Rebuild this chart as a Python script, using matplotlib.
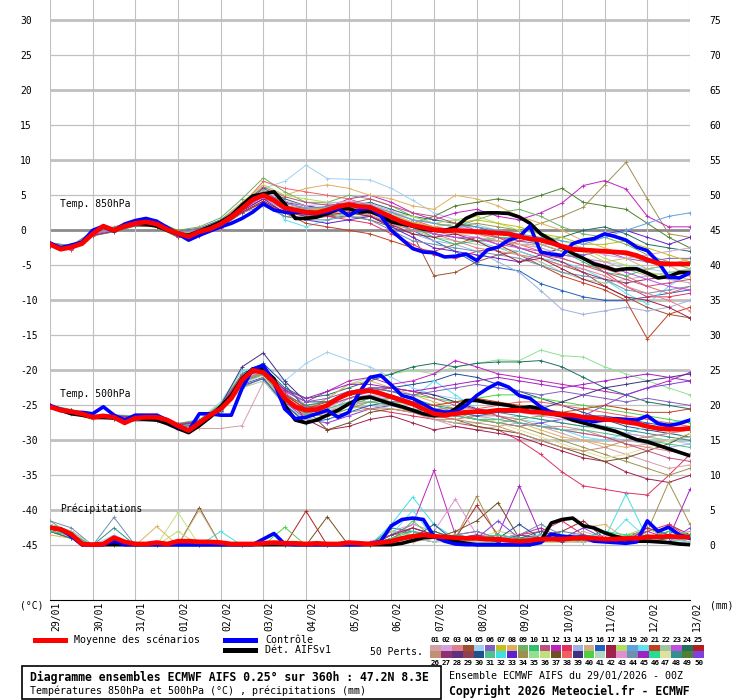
import matplotlib
matplotlib.use('Agg')
import matplotlib.pyplot as plt
import matplotlib.transforms as mtransforms
from matplotlib.patches import Rectangle
from matplotlib.lines import Line2D
import numpy as np

plt.rcParams['font.family'] = ['DejaVu Sans Mono']

W, H = 740, 700

# x axis: days since 29/01 00Z, main runs every 6h, members every 12h
day_labels = ['29/01', '30/01', '31/01', '01/02', '02/02', '03/02', '04/02', '05/02',
              '06/02', '07/02', '08/02', '09/02', '10/02', '11/02', '12/02', '13/02']
steps6 = np.arange(61) * 0.25
steps12 = np.arange(31) * 0.5

# ---- Temp 850hPa (°C), 6-hourly
t850_mean = [-2.0, -2.7, -2.4, -1.9, -0.5, 0.6, 0.0, 0.6, 1.0, 1.2, 0.9, 0.1, -0.4, -0.9, -0.2, 0.2,
             0.9, 1.9, 3.1, 4.4, 5.0, 4.3, 3.2, 2.9, 2.6, 2.5, 2.9, 3.4, 3.7, 3.4, 3.3, 2.6,
             1.9, 1.2, 0.7, 0.4, 0.1, -0.1, 0.0, -0.1, -0.2, -0.3, -0.4, -0.5, -0.9, -1.2, -1.4, -1.8,
             -2.3, -2.7, -2.8, -2.9, -3.0, -3.1, -3.2, -3.6, -4.2, -4.7, -4.8, -4.8, -4.8]
t850_ctrl = [-1.8, -2.5, -2.1, -1.7, 0.0, 0.6, 0.0, 0.9, 1.4, 1.7, 1.3, 0.4, -0.5, -1.4, -0.7, -0.1,
             0.5, 1.0, 1.7, 2.6, 3.8, 2.9, 2.6, 2.6, 2.5, 2.4, 2.6, 3.1, 2.1, 2.9, 3.2, 2.1,
             0.0, -1.3, -2.6, -3.1, -3.2, -3.8, -3.7, -3.4, -4.3, -2.8, -2.4, -1.4, -0.9, 0.6, -3.1, -3.4,
             -3.6, -1.9, -1.4, -1.2, -0.5, -0.9, -1.4, -2.4, -2.9, -4.5, -6.7, -6.8, -6.1]
t850_det = [-2.0, -2.7, -2.2, -1.8, -0.2, 0.5, -0.1, 0.7, 1.0, 0.9, 0.6, 0.0, -0.5, -0.7, -0.1, 0.5,
            1.2, 2.1, 3.6, 4.9, 5.2, 5.5, 3.8, 1.7, 1.7, 1.9, 2.4, 3.0, 3.1, 2.6, 2.7, 2.1,
            1.2, 0.9, 0.6, 0.2, 0.0, 0.0, 0.4, 1.7, 2.4, 2.5, 2.5, 2.4, 1.9, 1.0, -0.5, -1.4,
            -2.4, -3.3, -4.0, -4.8, -5.2, -5.7, -5.5, -5.5, -6.1, -6.8, -6.6, -6.0, -6.0]

# ---- Temp 500hPa (°C), 6-hourly
t500_mean = [-25.2, -25.7, -25.9, -26.2, -26.7, -26.5, -26.7, -27.5, -26.8, -26.7, -26.7, -27.1, -27.9, -28.6, -27.5, -26.4,
             -25.5, -24.0, -21.4, -20.0, -20.3, -21.7, -24.0, -25.2, -25.7, -25.6, -25.0, -24.0, -23.3, -23.0, -22.9, -23.3,
             -23.8, -24.3, -24.8, -25.5, -26.2, -26.4, -26.2, -26.0, -25.9, -25.9, -25.7, -25.7, -25.7, -25.9, -26.0, -26.2,
             -26.3, -26.4, -26.7, -26.8, -27.0, -27.1, -27.4, -27.6, -28.0, -28.3, -28.4, -28.4, -28.3]
t500_ctrl = [-25.0, -25.6, -26.0, -26.0, -26.2, -25.2, -26.4, -27.1, -26.4, -26.4, -26.4, -27.1, -28.1, -28.6, -26.2, -26.2,
             -26.4, -26.4, -22.6, -19.8, -19.3, -21.7, -25.5, -26.9, -26.7, -26.2, -25.7, -26.7, -26.0, -23.1, -21.0, -20.7,
             -22.1, -23.6, -24.0, -24.8, -25.7, -26.0, -25.9, -25.0, -23.6, -22.6, -21.8, -22.4, -23.6, -24.0, -25.2, -26.0,
             -26.4, -26.7, -27.1, -27.3, -27.1, -26.9, -27.0, -27.1, -26.5, -27.6, -27.9, -27.6, -27.1]
t500_det = [-25.2, -25.7, -26.2, -26.4, -26.7, -26.7, -26.8, -27.4, -26.9, -27.0, -27.1, -27.6, -28.3, -28.9, -27.9, -26.7,
            -25.2, -23.6, -21.2, -19.8, -19.8, -21.2, -25.0, -27.1, -27.5, -27.1, -26.4, -25.7, -24.8, -24.0, -23.8, -24.3,
            -24.8, -25.2, -25.7, -26.2, -26.5, -26.4, -25.5, -24.3, -24.3, -24.6, -24.8, -25.0, -25.4, -25.2, -25.5, -26.2,
            -26.5, -27.1, -27.5, -27.9, -28.3, -28.7, -29.3, -29.9, -30.2, -30.7, -31.2, -31.7, -32.2]

# ---- Precipitation (mm), 6-hourly
pr_mean = [2.5, 2.3, 1.6, 0.2, 0.1, 0.2, 1.1, 0.5, 0.2, 0.2, 0.4, 0.2, 0.6, 0.6, 0.5, 0.5,
           0.4, 0.2, 0.2, 0.2, 0.3, 0.4, 0.3, 0.3, 0.2, 0.3, 0.2, 0.2, 0.4, 0.3, 0.2, 0.4,
           0.6, 1.0, 1.3, 1.5, 1.3, 1.2, 1.1, 1.0, 1.0, 0.9, 0.9, 0.7, 0.6, 0.7, 0.9, 0.9,
           0.9, 1.0, 1.0, 1.0, 0.9, 0.9, 1.0, 1.0, 1.2, 1.2, 1.3, 1.2, 1.2]
pr_ctrl = [2.6, 2.3, 1.3, 0.1, 0.1, 0.1, 0.6, 0.1, 0.1, 0.1, 0.1, 0.1, 0.1, 0.1, 0.1, 0.1,
           0.1, 0.1, 0.1, 0.1, 0.9, 1.7, 0.2, 0.1, 0.1, 0.1, 0.1, 0.1, 0.1, 0.1, 0.2, 0.6,
           2.8, 3.7, 3.9, 3.7, 1.3, 0.6, 0.2, 0.1, 0.1, 0.1, 0.1, 0.1, 0.1, 0.1, 0.4, 1.6,
           1.3, 1.2, 1.1, 0.6, 0.5, 0.4, 0.3, 0.5, 3.5, 2.0, 2.6, 1.5, 1.0]
pr_det = [2.5, 2.3, 1.5, 0.1, 0.1, 0.1, 0.1, 0.1, 0.1, 0.1, 0.1, 0.1, 0.1, 0.1, 0.1, 0.1,
          0.1, 0.1, 0.1, 0.1, 0.1, 0.1, 0.1, 0.1, 0.1, 0.1, 0.1, 0.1, 0.1, 0.1, 0.1, 0.1,
          0.1, 0.3, 0.7, 1.1, 1.2, 1.0, 0.6, 0.3, 0.1, 0.1, 0.1, 0.1, 0.1, 0.1, 0.6, 3.2,
          3.7, 3.9, 2.8, 2.5, 1.8, 1.3, 0.9, 0.6, 0.6, 0.5, 0.4, 0.2, 0.1]

# ---- perturbation members (12-hourly), ids refer to the legend numbers
t850_ids = [5, 34, 12, 49, 4, 16, 14, 8, 20, 21, 9, 6, 13, 24, 22, 33, 38, 44, 18, 27,
            1, 2, 3, 7, 10, 11, 15, 17, 19, 23]
t850_members = [
    [-1.9, -2.3, -0.3, 0.3, 1.2, 1.0, -0.2, 0.2, 1.5, 4.0, 6.0, 7.0, 9.3, 7.4, 7.3, 7.2, 6.0, 4.3, 2.5, 1.5, 0.8, 0.0, -1.5, -2.5, -3.5, -4.0, -4.5, -5.0, -5.5, -6.0, -6.0],
    [-2.1, -2.6, -0.6, 0.1, 0.8, 0.7, -0.6, -0.5, 0.6, 3.0, 5.5, 3.0, 2.0, 2.5, 3.5, 3.0, 1.5, 0.5, -0.5, 0.5, 1.0, 0.5, 0.0, 1.0, 2.0, 3.3, 6.5, 9.7, 4.5, -0.5, -1.0],
    [-2.0, -2.5, -0.4, 0.2, 1.1, 1.2, -0.3, 0.0, 1.0, 3.5, 5.5, 4.0, 3.0, 3.2, 4.5, 5.0, 4.0, 2.5, 1.5, 2.5, 3.0, 2.0, 1.5, 2.5, 3.9, 6.4, 7.1, 5.9, 2.0, 0.5, 0.5],
    [-2.2, -2.7, -0.8, -0.2, 0.6, 0.5, -1.0, -0.8, 0.5, 2.5, 4.0, 2.0, 1.5, 2.0, 2.5, 2.0, 0.5, 1.0, 2.0, 3.5, 4.0, 4.5, 4.0, 5.0, 6.0, 4.0, 3.5, 3.0, 1.0, -1.0, -2.5],
    [-2.0, -2.4, -0.5, 0.0, 0.9, 0.8, -0.5, -0.3, 0.8, 3.0, 5.2, 3.5, 2.5, 2.0, 2.0, 1.5, 0.5, -0.5, -6.5, -6.0, -4.5, -3.5, -3.0, -4.0, -5.0, -6.0, -8.0, -9.5, -11.0, -12.0, -12.5],
    [-1.8, -2.2, -0.2, 0.4, 1.3, 1.1, -0.1, 0.3, 1.5, 3.8, 5.5, 3.5, 3.0, 3.0, 3.5, 3.0, 1.5, 0.0, -1.5, -3.0, -4.8, -5.3, -5.8, -7.6, -8.6, -9.5, -10.0, -10.0, -9.5, -9.0, -8.5],
    [-2.1, -2.5, -0.6, 0.0, 0.9, 0.7, -0.6, -0.4, 0.6, 2.8, 4.5, 3.0, 2.5, 2.8, 3.0, 2.5, 1.0, -0.5, -1.5, -2.0, -3.0, -4.5, -6.0, -8.6, -11.3, -12.0, -11.5, -11.0, -11.5, -11.0, -10.0],
    [-1.9, -2.3, -0.3, 0.4, 1.3, 1.0, -0.3, 0.1, 1.4, 4.0, 6.5, 5.0, 6.0, 6.5, 6.0, 5.0, 4.5, 3.5, 3.0, 5.0, 4.5, 3.5, 2.0, 1.0, 0.0, -1.5, -2.5, -3.5, -4.5, -5.0, -4.0],
    [-2.0, -2.4, -0.5, 0.1, 1.0, 0.9, -0.4, -0.2, 1.0, 3.2, 6.0, 1.5, 0.5, 1.5, 2.5, 3.5, 2.5, 1.0, 0.0, -1.0, -1.5, -2.5, -3.0, -4.0, -4.5, -5.5, -7.0, -9.0, -10.5, -8.0, -6.0],
    [-2.2, -2.8, -0.7, -0.1, 0.7, 0.6, -0.8, -0.6, 0.4, 2.5, 4.0, 2.5, 1.0, 0.5, 0.0, -0.5, -1.5, -2.5, -3.0, -2.0, -1.0, -2.0, -3.5, -5.0, -6.5, -7.5, -8.5, -10.0, -15.5, -12.0, -11.0],
    [-1.8, -2.2, -0.2, 0.5, 1.4, 1.3, 0.0, 0.5, 1.8, 4.5, 7.5, 5.5, 4.0, 4.0, 5.0, 4.5, 3.5, 2.0, 1.0, 0.5, 1.5, 2.5, 3.0, 2.0, 0.5, -0.5, -1.0, -2.0, -3.5, -4.5, -5.5],
    [-2.0, -2.5, -0.4, 0.2, 1.0, 1.0, -0.3, -0.1, 1.1, 3.5, 5.0, 3.0, 2.5, 3.5, 4.0, 3.0, 2.0, 1.0, 0.5, 0.0, -0.5, -1.0, -1.5, -2.0, -3.0, -3.5, -3.0, -4.0, -4.5, -4.0, -4.0],
    [-2.1, -2.6, -0.7, -0.1, 0.8, 0.6, -0.9, -0.7, 0.5, 2.8, 4.5, 3.5, 3.0, 2.0, 1.5, 1.0, -0.5, -2.0, -3.5, -4.0, -3.0, -2.5, -1.5, -1.0, -2.5, -4.0, -6.0, -8.0, -9.5, -9.5, -9.0],
    [-1.9, -2.3, -0.4, 0.3, 1.1, 1.0, -0.2, 0.1, 1.2, 3.5, 6.0, 4.5, 3.5, 3.0, 3.5, 4.0, 3.0, 2.0, 1.5, 1.0, 0.5, -0.5, -1.0, -1.5, -1.0, 0.0, 0.5, -0.5, -2.0, -2.5, -3.0],
    [-2.0, -2.4, -0.5, 0.0, 0.9, 0.9, -0.4, -0.3, 0.8, 3.0, 5.0, 3.5, 3.0, 2.5, 2.0, 2.0, 1.0, 0.0, -1.0, -1.5, -2.0, -2.5, -3.5, -4.5, -6.0, -7.0, -7.5, -7.0, -6.5, -6.0, -5.5],
    [-2.1, -2.5, -0.5, 0.1, 1.0, 0.8, -0.5, -0.4, 0.7, 2.8, 4.5, 2.5, 1.5, 1.0, 1.5, 2.0, 0.5, -1.0, -2.5, -3.0, -3.5, -4.0, -4.5, -3.5, -2.5, -1.5, -0.5, 0.0, -1.0, -2.0, -1.0],
    [-2.0, -2.4, -0.3, 0.3, 1.1, 0.9, -0.3, 0.0, 1.2, 3.6, 7.0, 6.0, 5.5, 5.0, 4.5, 3.5, 2.5, 1.5, 0.5, 0.0, -0.5, -1.0, -2.0, -3.0, -4.0, -5.0, -5.5, -6.5, -8.0, -9.0, -8.0],
    [-2.2, -2.7, -0.7, -0.2, 0.7, 0.7, -0.7, -0.5, 0.5, 2.5, 3.5, 2.0, 1.5, 1.5, 2.0, 1.5, 0.0, -1.5, -2.0, -2.5, -3.0, -3.5, -4.0, -5.0, -6.0, -6.5, -7.0, -8.5, -9.0, -8.5, -8.0],
    [-1.9, -2.3, -0.4, 0.2, 1.1, 1.1, -0.2, 0.2, 1.3, 3.8, 6.5, 5.0, 4.5, 4.0, 4.0, 3.5, 2.5, 2.0, 1.0, 1.5, 2.0, 1.0, 0.0, -0.5, -1.5, -2.5, -4.0, -5.0, -6.0, -6.5, -7.0],
    [-2.0, -2.5, -0.6, 0.0, 0.9, 0.8, -0.6, -0.5, 0.7, 3.0, 5.0, 4.0, 3.5, 3.0, 3.0, 2.5, 1.5, 0.5, -0.5, -1.0, -1.5, -1.5, -2.5, -3.5, -4.5, -6.0, -7.0, -7.5, -7.0, -6.5, -6.0],
    [-2.1, -2.5, -0.5, 0.1, 0.9, 0.8, -0.5, -0.3, 0.9, 3.2, 5.3, 3.8, 3.2, 3.0, 3.6, 3.2, 2.0, 0.8, 0.0, -0.5, -1.0, -1.5, -2.0, -2.5, -3.5, -4.0, -4.5, -5.5, -6.5, -7.0, -7.5],
    [-1.9, -2.4, -0.4, 0.3, 1.1, 1.0, -0.3, 0.0, 1.1, 3.4, 5.8, 4.2, 3.5, 3.8, 4.2, 3.8, 2.8, 1.5, 1.0, 0.5, 0.0, -0.5, -1.0, -2.0, -2.0, -2.5, -3.5, -4.0, -3.5, -3.0, -2.5],
    [-2.0, -2.6, -0.6, 0.0, 0.8, 0.6, -0.7, -0.5, 0.6, 2.9, 4.8, 2.8, 2.2, 2.4, 2.8, 2.2, 1.0, 0.0, -0.5, -1.5, -2.5, -3.0, -3.5, -4.0, -5.0, -5.5, -6.5, -8.0, -9.0, -10.0, -11.5],
    [-2.0, -2.4, -0.4, 0.2, 1.0, 0.9, -0.4, -0.1, 1.0, 3.3, 5.6, 3.5, 2.8, 3.3, 3.8, 3.4, 2.2, 1.2, 0.5, 1.0, 1.5, 1.0, 0.5, -0.5, -1.0, -2.0, -2.0, -1.5, -2.5, -3.5, -4.5],
    [-2.1, -2.5, -0.5, 0.1, 0.9, 0.8, -0.5, -0.3, 0.8, 3.0, 5.0, 3.2, 2.7, 3.0, 3.4, 3.0, 1.5, 0.5, -1.0, -2.0, -1.5, -1.0, -1.0, -2.0, -3.0, -4.5, -6.0, -6.5, -5.5, -5.0, -4.5],
    [-1.9, -2.3, -0.3, 0.3, 1.2, 1.1, -0.2, 0.2, 1.3, 3.7, 6.2, 4.8, 4.0, 3.6, 3.8, 4.5, 3.5, 2.5, 2.0, 1.0, 0.0, -1.0, -2.5, -3.5, -4.0, -5.0, -6.0, -7.0, -8.0, -7.5, -7.0],
    [-2.0, -2.5, -0.5, 0.1, 1.0, 0.9, -0.4, -0.2, 0.9, 3.1, 5.1, 3.3, 2.8, 3.1, 3.7, 3.3, 2.0, 1.0, 0.5, -0.5, -0.5, -1.5, -2.0, -2.0, -3.0, -3.0, -4.5, -4.0, -5.5, -5.0, -6.5],
    [-2.2, -2.7, -0.7, -0.1, 0.7, 0.6, -0.8, -0.6, 0.5, 2.6, 4.2, 2.6, 2.0, 2.2, 2.6, 2.0, 0.8, -0.5, -1.0, -0.5, -1.5, -3.0, -4.5, -4.0, -5.5, -7.0, -8.0, -9.5, -10.0, -11.0, -12.5],
    [-2.0, -2.4, -0.4, 0.2, 1.0, 1.0, -0.3, 0.0, 1.1, 3.4, 5.5, 3.9, 3.2, 3.4, 3.9, 3.6, 2.6, 1.5, 1.0, 0.5, 0.5, 0.0, -0.5, -1.0, -1.5, -2.0, -1.0, 0.0, 1.0, 2.0, 2.5],
    [-2.1, -2.6, -0.6, 0.0, 0.8, 0.7, -0.6, -0.4, 0.7, 2.9, 4.9, 3.1, 2.5, 2.8, 3.3, 2.8, 1.5, 0.5, -0.5, -1.0, -1.0, -2.0, -2.5, -3.0, -3.5, -4.0, -5.0, -6.0, -7.0, -8.0, -8.5],
]

t500_ids = [5, 35, 13, 1, 42, 12, 24, 30, 20, 50, 34, 40, 8, 37, 14, 38, 39, 22, 48, 47,
            2, 3, 6, 9, 11, 16, 21, 26, 31, 45]
t500_members = [
    [-25.0, -25.6, -26.4, -26.3, -26.5, -26.3, -27.6, -27.0, -24.5, -20.0, -19.5, -21.5, -19.0, -17.4, -18.5, -19.5, -21.0, -22.5, -23.5, -24.0, -24.5, -25.0, -25.5, -26.0, -26.5, -27.0, -28.0, -29.0, -29.5, -30.0, -30.5],
    [-25.3, -26.0, -26.8, -26.9, -27.0, -26.8, -28.2, -27.8, -25.8, -22.0, -20.5, -24.5, -26.0, -24.0, -22.0, -21.0, -20.5, -20.0, -20.5, -19.5, -19.0, -18.5, -18.6, -17.1, -17.9, -18.1, -19.5, -20.5, -21.5, -22.5, -23.5],
    [-25.2, -25.9, -26.7, -26.8, -26.9, -26.8, -28.0, -27.6, -25.6, -21.5, -20.5, -24.5, -26.5, -26.0, -25.0, -25.5, -26.0, -26.5, -27.0, -27.5, -28.0, -28.5, -30.0, -32.0, -34.5, -36.5, -37.0, -37.5, -37.8, -35.0, -32.0],
    [-25.4, -26.2, -27.0, -27.0, -27.3, -27.2, -28.5, -28.3, -28.3, -27.9, -21.7, -22.5, -25.0, -26.0, -24.0, -23.5, -24.5, -25.5, -27.0, -28.0, -28.5, -28.0, -27.5, -28.0, -29.0, -30.0, -31.0, -32.0, -33.0, -34.0, -33.5],
    [-25.1, -25.8, -26.6, -26.5, -26.7, -26.6, -27.7, -27.3, -25.0, -21.0, -19.8, -23.5, -27.0, -28.5, -28.0, -27.0, -26.5, -27.5, -28.5, -28.0, -28.5, -29.0, -29.5, -30.5, -31.5, -32.5, -33.0, -34.5, -35.5, -36.0, -35.0],
    [-25.2, -25.9, -26.7, -26.7, -26.8, -26.7, -27.9, -27.5, -25.5, -21.3, -20.2, -23.0, -24.5, -23.0, -21.5, -21.0, -22.0, -21.5, -20.5, -18.6, -19.5, -20.5, -21.0, -21.5, -22.0, -22.5, -23.0, -23.5, -22.5, -21.5, -20.3],
    [-25.0, -25.7, -26.5, -26.6, -26.6, -26.5, -27.6, -27.2, -25.2, -20.8, -19.5, -22.5, -24.0, -23.5, -22.5, -21.5, -20.5, -19.5, -19.0, -19.5, -19.0, -18.8, -18.8, -18.6, -19.5, -21.0, -22.5, -23.5, -24.5, -25.0, -25.5],
    [-25.3, -26.0, -26.8, -26.8, -26.9, -26.7, -28.0, -27.6, -25.4, -20.5, -19.0, -22.0, -25.5, -25.0, -24.0, -23.0, -22.5, -22.0, -21.5, -20.5, -21.0, -22.0, -23.0, -24.0, -25.0, -26.0, -27.0, -28.0, -28.5, -29.0, -29.5],
    [-25.1, -25.8, -26.6, -26.6, -26.7, -26.6, -27.8, -27.4, -24.8, -20.0, -19.8, -24.0, -26.0, -25.5, -24.5, -24.0, -25.0, -24.0, -21.5, -23.5, -25.5, -26.5, -27.0, -27.5, -28.5, -29.5, -30.0, -29.0, -28.0, -27.5, -27.0],
    [-25.2, -26.0, -26.8, -26.7, -26.9, -26.8, -28.0, -27.6, -25.8, -22.0, -21.0, -24.5, -27.0, -27.5, -26.5, -25.5, -25.0, -25.5, -26.0, -26.5, -27.0, -27.5, -28.0, -27.5, -27.0, -26.5, -25.0, -23.5, -22.5, -22.0, -21.5],
    [-25.3, -26.1, -26.9, -26.9, -27.0, -26.9, -28.1, -27.7, -25.9, -22.5, -21.0, -25.0, -27.5, -26.5, -25.0, -24.0, -24.5, -25.0, -26.0, -26.5, -27.0, -27.5, -28.0, -29.0, -30.0, -31.0, -32.0, -33.0, -34.0, -35.0, -34.0],
    [-25.0, -25.6, -26.5, -26.4, -26.6, -26.5, -27.6, -27.1, -24.8, -20.5, -19.8, -23.5, -25.0, -24.5, -23.5, -22.5, -23.0, -23.5, -24.0, -24.5, -24.0, -23.5, -23.5, -24.0, -24.5, -25.0, -25.5, -26.0, -26.5, -27.0, -27.5],
    [-25.2, -25.9, -26.7, -26.7, -26.8, -26.7, -27.9, -27.5, -25.5, -21.5, -20.5, -23.5, -25.5, -24.0, -22.0, -21.5, -22.5, -23.5, -24.5, -25.5, -26.0, -26.5, -27.5, -28.5, -29.5, -30.0, -30.5, -31.0, -30.5, -30.0, -29.5],
    [-25.1, -25.8, -26.6, -26.6, -26.7, -26.6, -27.8, -27.4, -25.3, -21.0, -20.0, -23.5, -25.5, -28.5, -27.5, -26.0, -25.5, -26.0, -26.5, -27.0, -28.0, -28.5, -29.0, -30.0, -31.0, -32.0, -33.0, -32.5, -31.5, -30.5, -29.0],
    [-25.3, -26.0, -26.8, -26.8, -26.9, -26.8, -28.0, -27.6, -25.6, -21.5, -20.5, -24.0, -26.5, -26.0, -24.5, -24.0, -24.0, -24.5, -25.5, -26.0, -26.5, -27.0, -27.5, -28.0, -28.5, -29.0, -29.5, -30.0, -30.5, -31.0, -30.5],
    [-25.2, -25.9, -26.6, -26.7, -26.8, -26.7, -27.8, -27.5, -25.5, -21.3, -20.3, -24.0, -25.5, -25.0, -23.5, -23.0, -23.5, -24.5, -25.5, -25.5, -25.5, -25.0, -24.5, -24.5, -25.0, -25.5, -26.0, -26.5, -27.0, -27.5, -28.0],
    [-25.0, -25.7, -26.5, -26.5, -26.6, -26.5, -27.7, -27.3, -25.0, -19.5, -17.5, -21.5, -24.5, -24.5, -23.5, -22.5, -22.5, -23.0, -23.5, -24.5, -25.5, -26.0, -26.0, -25.5, -24.5, -23.5, -22.5, -22.0, -21.5, -21.0, -20.5],
    [-25.3, -26.1, -26.9, -26.9, -27.0, -26.9, -28.2, -27.8, -26.0, -22.5, -21.5, -25.0, -27.0, -26.5, -25.5, -25.0, -25.5, -26.0, -27.0, -27.5, -27.5, -27.0, -26.5, -27.0, -27.5, -28.0, -28.5, -29.0, -29.5, -30.0, -29.5],
    [-25.1, -25.8, -26.6, -26.6, -26.7, -26.6, -27.9, -27.5, -25.5, -21.5, -20.5, -23.5, -25.0, -24.5, -23.0, -22.5, -23.0, -24.0, -25.0, -25.5, -26.0, -26.0, -26.5, -27.0, -27.5, -28.0, -28.0, -28.5, -29.0, -29.5, -30.0],
    [-25.2, -26.0, -26.8, -26.8, -26.9, -26.8, -28.0, -27.6, -25.6, -21.8, -20.8, -24.5, -26.0, -25.5, -25.0, -24.5, -24.5, -25.0, -25.5, -26.0, -26.5, -27.5, -28.5, -29.5, -30.5, -31.5, -32.5, -32.0, -31.0, -30.0, -29.0],
    [-25.1, -25.8, -26.6, -26.6, -26.8, -26.7, -27.8, -27.4, -25.3, -21.2, -20.1, -23.8, -25.8, -25.3, -24.0, -23.5, -24.0, -25.0, -26.0, -26.5, -26.0, -25.5, -26.0, -26.5, -27.0, -27.5, -28.5, -29.0, -29.5, -29.0, -28.5],
    [-25.3, -26.0, -26.8, -26.8, -27.0, -26.9, -28.1, -27.7, -25.7, -21.7, -20.6, -24.3, -26.3, -26.0, -25.0, -24.5, -25.0, -26.0, -27.0, -27.0, -26.5, -26.5, -27.0, -28.0, -28.0, -28.5, -29.5, -30.5, -31.0, -31.5, -32.0],
    [-25.1, -25.7, -26.5, -26.5, -26.7, -26.5, -27.7, -27.2, -25.0, -20.7, -19.6, -22.8, -24.5, -24.0, -23.0, -22.5, -23.0, -23.5, -23.0, -22.5, -22.0, -22.5, -23.0, -23.5, -23.0, -23.5, -24.0, -24.5, -24.0, -24.5, -25.0],
    [-25.2, -25.9, -26.7, -26.7, -26.9, -26.7, -27.9, -27.5, -25.4, -21.4, -20.4, -24.2, -26.3, -26.5, -25.5, -24.5, -24.0, -24.5, -25.0, -26.0, -27.0, -27.5, -27.0, -26.5, -26.0, -26.5, -27.0, -27.5, -28.0, -28.5, -28.0],
    [-25.0, -25.7, -26.5, -26.5, -26.6, -26.6, -27.7, -27.3, -25.1, -20.6, -19.6, -23.2, -25.2, -25.0, -24.0, -23.0, -22.5, -23.0, -24.0, -25.0, -25.5, -26.5, -27.5, -28.0, -28.5, -29.0, -29.5, -30.5, -31.5, -32.5, -33.0],
    [-25.3, -26.0, -26.8, -26.9, -26.9, -26.8, -28.1, -27.7, -25.8, -22.2, -21.2, -24.8, -27.5, -27.0, -26.0, -25.0, -24.5, -24.5, -25.5, -26.0, -26.5, -26.0, -25.5, -25.5, -26.0, -26.5, -26.5, -27.0, -27.5, -28.0, -28.5],
    [-25.1, -25.8, -26.6, -26.6, -26.7, -26.6, -27.8, -27.4, -25.2, -20.9, -19.9, -23.5, -25.5, -24.5, -23.5, -23.0, -23.5, -24.5, -25.0, -24.5, -24.0, -24.5, -25.0, -25.5, -26.0, -25.5, -25.0, -25.5, -26.0, -26.0, -25.5],
    [-25.2, -25.9, -26.7, -26.7, -26.8, -26.7, -27.9, -27.5, -25.5, -21.4, -20.4, -23.9, -26.0, -26.5, -26.0, -25.5, -25.5, -26.0, -26.5, -27.0, -27.5, -28.0, -29.0, -30.0, -31.0, -31.5, -31.0, -30.0, -29.5, -29.0, -28.5],
    [-25.2, -26.0, -26.8, -26.8, -26.9, -26.8, -28.0, -27.6, -25.6, -21.6, -20.6, -24.2, -26.2, -25.5, -24.5, -24.5, -25.0, -25.5, -26.0, -26.5, -27.0, -27.0, -27.5, -28.0, -28.5, -28.5, -29.0, -29.5, -30.0, -30.5, -31.0],
    [-25.1, -25.8, -26.6, -26.6, -26.7, -26.6, -27.8, -27.4, -25.2, -21.0, -19.8, -22.8, -24.0, -23.0, -22.0, -22.0, -22.5, -23.0, -22.5, -22.0, -21.5, -21.0, -21.5, -22.0, -22.5, -22.0, -21.5, -21.0, -20.5, -21.0, -21.5],
]

pr_ids = [12, 32, 37, 25, 45, 34, 43, 36, 44, 48, 8, 40, 30, 15, 13, 50,
          1, 5, 18, 20, 24, 27, 41, 46]
pr_members = [
    [2.5, 1.5, 0.0, 0.0, 0.0, 0.3, 0.0, 0.0, 0.0, 0.0, 0.2, 0.0, 0.0, 0.0, 0.0, 0.5, 1.5, 3.0, 10.7, 1.5, 2.0, 1.0, 1.5, 2.5, 1.0, 0.5, 1.5, 1.0, 2.0, 1.0, 0.5],
    [3.0, 2.0, 0.0, 0.0, 0.5, 0.0, 0.0, 0.0, 2.0, 0.0, 0.0, 0.0, 0.0, 0.0, 0.0, 0.0, 3.0, 6.9, 3.0, 1.0, 0.5, 0.5, 1.0, 0.5, 0.5, 0.5, 1.0, 7.3, 1.0, 2.0, 1.0],
    [2.0, 1.0, 0.0, 0.0, 0.0, 0.0, 0.0, 5.4, 0.0, 0.0, 0.0, 0.0, 0.0, 4.1, 0.0, 0.0, 2.0, 1.5, 1.0, 2.0, 3.5, 6.1, 1.0, 0.5, 1.0, 1.5, 0.5, 1.0, 2.5, 1.0, 1.5],
    [2.5, 1.5, 0.0, 0.0, 0.0, 0.0, 0.0, 0.0, 0.0, 0.0, 0.0, 0.0, 4.9, 0.0, 0.0, 0.0, 1.0, 2.5, 1.5, 1.0, 5.7, 1.5, 1.0, 1.5, 2.0, 3.5, 1.0, 1.5, 0.5, 3.0, 1.5],
    [2.0, 1.5, 0.0, 0.0, 0.0, 0.0, 0.0, 0.0, 0.0, 0.0, 0.0, 0.0, 0.0, 0.0, 0.0, 0.0, 1.5, 2.0, 1.0, 0.5, 1.0, 1.5, 8.5, 1.5, 1.0, 0.5, 1.0, 0.5, 1.5, 1.0, 8.0],
    [3.5, 1.5, 0.0, 0.0, 0.0, 0.0, 0.0, 0.0, 0.0, 0.0, 0.0, 0.5, 0.0, 0.0, 0.0, 0.0, 1.0, 1.0, 2.0, 1.0, 7.0, 1.0, 0.5, 1.5, 1.0, 0.5, 1.0, 1.5, 2.0, 9.0, 3.0],
    [2.0, 1.0, 0.0, 0.0, 0.0, 0.0, 0.0, 0.0, 0.0, 0.0, 0.0, 0.0, 0.0, 0.0, 0.0, 0.0, 2.0, 3.0, 2.0, 6.6, 1.5, 1.0, 0.5, 0.5, 1.0, 1.0, 0.5, 0.5, 3.0, 1.5, 1.0],
    [3.0, 2.0, 0.0, 0.0, 0.0, 0.0, 4.7, 0.0, 0.0, 0.0, 0.0, 0.0, 0.0, 0.0, 0.0, 0.0, 0.5, 1.0, 0.5, 0.5, 1.0, 2.0, 1.5, 1.0, 0.5, 0.5, 1.0, 1.5, 0.5, 1.0, 2.0],
    [3.5, 2.5, 0.0, 4.0, 0.0, 0.0, 0.0, 0.0, 0.0, 0.0, 0.0, 0.0, 0.0, 0.0, 0.0, 0.0, 1.5, 2.0, 1.0, 1.5, 2.0, 1.0, 1.5, 3.0, 1.5, 1.0, 0.5, 1.0, 1.0, 0.5, 1.0],
    [2.5, 1.5, 0.0, 2.5, 0.0, 0.5, 0.0, 0.0, 0.0, 0.0, 0.0, 0.0, 0.0, 0.0, 0.0, 0.0, 2.5, 2.0, 1.5, 1.0, 0.5, 0.5, 1.0, 1.0, 2.0, 1.5, 1.0, 0.5, 1.5, 1.0, 0.5],
    [1.5, 1.0, 0.0, 0.0, 0.0, 2.7, 0.0, 0.0, 0.0, 0.0, 0.0, 0.0, 0.0, 0.0, 0.0, 0.0, 1.0, 1.5, 1.0, 1.5, 1.0, 0.5, 1.0, 0.5, 1.0, 2.5, 3.0, 1.0, 0.5, 1.0, 1.5],
    [3.0, 1.5, 0.0, 0.0, 0.0, 0.0, 0.0, 0.0, 0.0, 0.0, 0.0, 2.6, 0.0, 0.0, 0.0, 0.0, 0.5, 3.5, 1.0, 0.5, 0.5, 1.0, 0.5, 1.0, 1.5, 1.0, 0.5, 1.0, 0.5, 0.5, 1.0],
    [2.0, 1.5, 0.0, 0.0, 0.0, 0.0, 0.0, 0.0, 0.0, 0.0, 0.0, 0.0, 0.0, 0.0, 0.0, 0.0, 1.0, 1.0, 3.0, 0.5, 1.0, 1.0, 3.0, 1.0, 0.5, 1.0, 2.0, 0.5, 1.0, 2.0, 1.5],
    [2.5, 1.0, 0.0, 0.0, 0.0, 0.0, 0.0, 5.1, 0.0, 0.0, 0.0, 0.0, 0.0, 0.0, 0.0, 0.0, 0.5, 0.5, 1.0, 1.0, 0.5, 0.5, 1.0, 0.5, 0.5, 0.5, 1.0, 1.0, 0.5, 0.5, 1.0],
    [2.0, 1.5, 0.0, 0.0, 0.0, 0.0, 0.0, 0.0, 0.0, 0.0, 0.0, 0.0, 0.0, 0.0, 0.0, 0.0, 1.5, 2.5, 1.5, 1.0, 1.5, 1.0, 1.5, 2.0, 3.5, 1.5, 1.0, 0.5, 2.0, 3.0, 1.0],
    [3.0, 2.0, 0.0, 0.0, 0.0, 0.0, 0.0, 0.0, 0.0, 0.0, 0.0, 0.0, 0.0, 0.0, 0.0, 0.0, 0.5, 1.0, 0.5, 1.5, 1.0, 3.5, 1.0, 1.5, 1.0, 2.5, 1.0, 0.5, 1.0, 0.5, 2.5],
    [2.0, 1.5, 0.0, 0.0, 0.0, 0.0, 0.0, 0.0, 0.0, 0.0, 0.0, 0.0, 0.0, 0.0, 0.0, 0.0, 1.0, 1.5, 1.0, 0.5, 0.5, 1.0, 0.5, 1.0, 1.0, 2.0, 1.0, 0.5, 1.0, 1.5, 2.0],
    [2.5, 2.0, 0.0, 1.5, 0.0, 0.0, 0.0, 0.0, 0.0, 0.0, 0.0, 0.0, 0.0, 0.0, 0.0, 0.0, 0.5, 1.0, 1.5, 1.0, 0.5, 1.0, 1.5, 1.0, 1.0, 0.5, 1.5, 1.0, 0.5, 1.0, 0.5],
    [3.0, 2.0, 0.0, 0.0, 0.0, 0.0, 2.0, 0.0, 0.0, 0.0, 0.0, 0.0, 0.0, 0.0, 0.0, 0.0, 2.0, 1.5, 1.0, 1.5, 0.5, 0.5, 1.0, 0.5, 0.5, 1.0, 0.5, 1.5, 2.5, 1.0, 1.0],
    [2.5, 1.5, 0.0, 0.0, 0.0, 0.0, 0.0, 0.0, 0.0, 0.0, 0.0, 0.0, 0.0, 0.0, 0.0, 0.0, 1.5, 5.0, 1.0, 0.5, 1.0, 0.5, 1.0, 1.5, 0.5, 1.0, 0.5, 3.7, 1.0, 0.5, 1.0],
    [2.0, 1.0, 0.0, 0.0, 0.0, 0.0, 0.0, 0.0, 0.0, 0.0, 0.0, 0.0, 0.0, 0.0, 0.0, 0.0, 1.0, 1.0, 2.0, 1.0, 1.0, 0.5, 1.0, 2.0, 1.0, 0.5, 1.0, 1.0, 0.5, 1.0, 1.5],
    [2.5, 1.5, 0.0, 0.0, 0.0, 0.0, 0.0, 0.0, 0.0, 0.0, 0.0, 0.0, 0.0, 0.0, 0.0, 0.0, 1.5, 2.5, 1.5, 1.0, 1.5, 0.5, 1.5, 1.0, 0.5, 1.5, 1.0, 0.5, 2.5, 1.5, 1.0],
    [3.0, 2.0, 0.0, 0.0, 0.0, 0.0, 0.0, 0.0, 0.0, 0.0, 0.0, 0.0, 0.0, 0.0, 0.0, 0.0, 0.5, 1.0, 0.5, 1.0, 0.5, 1.0, 0.5, 0.5, 1.0, 0.5, 0.5, 1.0, 1.0, 0.5, 0.5],
    [2.0, 1.5, 0.0, 0.0, 0.0, 0.0, 0.0, 0.0, 0.0, 0.0, 0.0, 0.0, 0.0, 0.0, 0.0, 0.0, 1.0, 2.0, 1.0, 1.5, 1.0, 1.5, 1.0, 1.0, 1.5, 1.0, 2.0, 1.5, 1.0, 2.0, 1.5],
]

# colours of the 50 perturbations (legend order 01..50)
pert_colors = ['#d4a0a8', '#d4a0e0', '#e08088', '#a05030', '#a0d0f0', '#8060c0', '#c0c020', '#e0b060',
               '#70b060', '#30c070', '#c05080', '#c020c0', '#e03060', '#a0b0e0', '#d0b080', '#2060c0',
               '#a02040', '#b0e060', '#60a0e0', '#60e0f0', '#c04020', '#a0c8a0', '#c050e0', '#207060',
               '#b02020', '#c09070', '#903070', '#603080', '#904050', '#205090', '#50c090', '#40e0e0',
               '#6020d0', '#a09050', '#90e090', '#c0e080', '#705020', '#f06060', '#403080', '#50d040',
               '#b0d8c0', '#a02050', '#e090d0', '#7090b0', '#a020c0', '#20e090', '#e0e0a0', '#309090',
               '#508030', '#8040e0']

for arr in (t850_mean, t850_ctrl, t850_det, t500_mean, t500_ctrl, t500_det, pr_mean, pr_ctrl, pr_det):
    assert len(arr) == 61, len(arr)
for group in (t850_members, t500_members, pr_members):
    for arr in group:
        assert len(arr) == 31, len(arr)

# ---------------------------------------------------------------- figure
fig = plt.figure(figsize=(W / 100, H / 100), dpi=100)
ax = fig.add_axes([50 / W, 100 / H, 640 / W, 600 / H])
ylo, yhi = -52.8, 32.9
ax.set_xlim(0, 15)
ax.set_ylim(ylo, yhi)

# grid
for v in range(-45, 31, 5):
    if v == 0:
        ax.axhline(v, color='#8c8c8c', lw=2.0, zorder=1)
    elif v % 10 == 0:
        ax.axhline(v, color='#c0c0c0', lw=2.0, zorder=1)
    else:
        ax.axhline(v, color='#c0c0c0', lw=0.9, zorder=1)
for d in range(16):
    ax.axvline(d, color='#c0c0c0', lw=0.8, zorder=1)

for spine in ['top', 'left', 'right']:
    ax.spines[spine].set_visible(False)
ax.spines['bottom'].set_color('black')
ax.spines['bottom'].set_linewidth(0.8)

mem_kw = dict(lw=0.7, marker='+', ms=3, mew=0.6, zorder=3)
for vals, num in zip(t850_members, t850_ids):
    ax.plot(steps12, vals, color=pert_colors[num - 1], **mem_kw)
for vals, num in zip(t500_members, t500_ids):
    ax.plot(steps12, vals, color=pert_colors[num - 1], **mem_kw)

for det, ctrl, mean in ((t850_det, t850_ctrl, t850_mean), (t500_det, t500_ctrl, t500_mean)):
    ax.plot(steps6, det, color='black', lw=2.6, zorder=5)
    ax.plot(steps6, ctrl, color='#0000ff', lw=2.6, zorder=6)
    ax.plot(steps6, mean, color='#ff0000', lw=3.4, zorder=7)

# precipitation on the right axis (mm)
ax2 = ax.twinx()
ax2.set_ylim(ylo + 45, yhi + 45)
for spine in ax2.spines.values():
    spine.set_visible(False)
for vals, num in zip(pr_members, pr_ids):
    ax2.plot(steps12, vals, color=pert_colors[num - 1], **mem_kw)
ax2.plot(steps6, pr_det, color='black', lw=2.6, zorder=5)
ax2.plot(steps6, pr_ctrl, color='#0000ff', lw=2.6, zorder=6)
ax2.plot(steps6, pr_mean, color='#ff0000', lw=3.4, zorder=7)

# ticks
ax.set_yticks(range(-45, 31, 5))
ax.set_yticklabels([str(v) for v in range(-45, 31, 5)])
ax.tick_params(axis='y', length=0, pad=21.6, labelsize=7)
for lab in ax.get_yticklabels():
    lab.set_ha('left')
ax2.set_yticks(range(0, 76, 5))
ax2.set_yticklabels([str(v) for v in range(0, 76, 5)])
ax2.tick_params(axis='y', length=0, pad=14, labelsize=7)

ax.set_xticks(range(16))
ax.set_xticklabels(day_labels, rotation=90, va='top', ha='center', fontsize=7)
ax.tick_params(axis='x', length=0, pad=1.5)
shift = mtransforms.ScaledTranslation(6.5 / 100, 0, fig.dpi_scale_trans)
for lab in ax.get_xticklabels():
    lab.set_transform(lab.get_transform() + shift)

# panel names
ax.text(0.23, 3.7, 'Temp. 850hPa', fontsize=7, va='center', zorder=8)
ax.text(0.23, -23.4, 'Temp. 500hPa', fontsize=7, va='center', zorder=8)
ax.text(0.23, -39.7, 'Précipitations', fontsize=7, va='center', zorder=8)


def fx(x):
    return x / W


def fy(y):
    return 1 - y / H


fig.text(fx(20), fy(606), '(°C)', fontsize=7, va='center')
fig.text(fx(710), fy(606), '(mm)', fontsize=7, va='center')

# legend of main runs
fig.add_artist(Line2D([fx(35), fx(65)], [fy(640), fy(640)], color='#ff0000', lw=3.6))
fig.text(fx(74), fy(640), 'Moyenne des scénarios', fontsize=7.2, va='center')
fig.add_artist(Line2D([fx(225), fx(255)], [fy(640), fy(640)], color='#0000ff', lw=3.6))
fig.text(fx(265), fy(640), 'Contrôle', fontsize=7.2, va='center')
fig.add_artist(Line2D([fx(225), fx(255)], [fy(650), fy(650)], color='black', lw=3.6))
fig.text(fx(265), fy(650), 'Dét. AIFSv1', fontsize=7.2, va='center')

# legend of perturbations
fig.text(fx(370), fy(652), '50 Perts.', fontsize=7, va='center')
step = 10.97
for i in range(25):
    x0 = 430 + i * step
    fig.add_artist(Rectangle((fx(x0), fy(651)), 10.6 / W, 6 / H, transform=fig.transFigure,
                             facecolor=pert_colors[i], edgecolor='none'))
    fig.add_artist(Rectangle((fx(x0), fy(657.5)), 10.6 / W, 6.5 / H, transform=fig.transFigure,
                             facecolor=pert_colors[i + 25], edgecolor='none'))
    fig.text(fx(x0 + 5.3), fy(640), '%02d' % (i + 1), fontsize=5.4, weight='bold',
             ha='center', va='center')
    fig.text(fx(x0 + 5.3), fy(663), '%02d' % (i + 26), fontsize=5.4, weight='bold',
             ha='center', va='center')

# title box
fig.add_artist(Rectangle((fx(22), fy(699)), (441 - 22) / W, (699 - 666) / H, transform=fig.transFigure,
                         facecolor='none', edgecolor='black', lw=1.2))
fig.text(fx(30), fy(677.5), 'Diagramme ensembles ECMWF AIFS 0.25° sur 360h : 47.2N 8.3E',
         fontsize=8.3, weight='bold', va='center')
fig.text(fx(30), fy(690.5), 'Températures 850hPa et 500hPa (°C) , précipitations (mm)',
         fontsize=7.2, va='center')
fig.text(fx(449), fy(675.5), 'Ensemble ECMWF AIFS du 29/01/2026 - 00Z', fontsize=7.2, va='center')
fig.text(fx(449), fy(691.5), 'Copyright 2026 Meteociel.fr - ECMWF', fontsize=8.3, weight='bold',
         va='center')

fig.savefig('out.png', dpi=100)
